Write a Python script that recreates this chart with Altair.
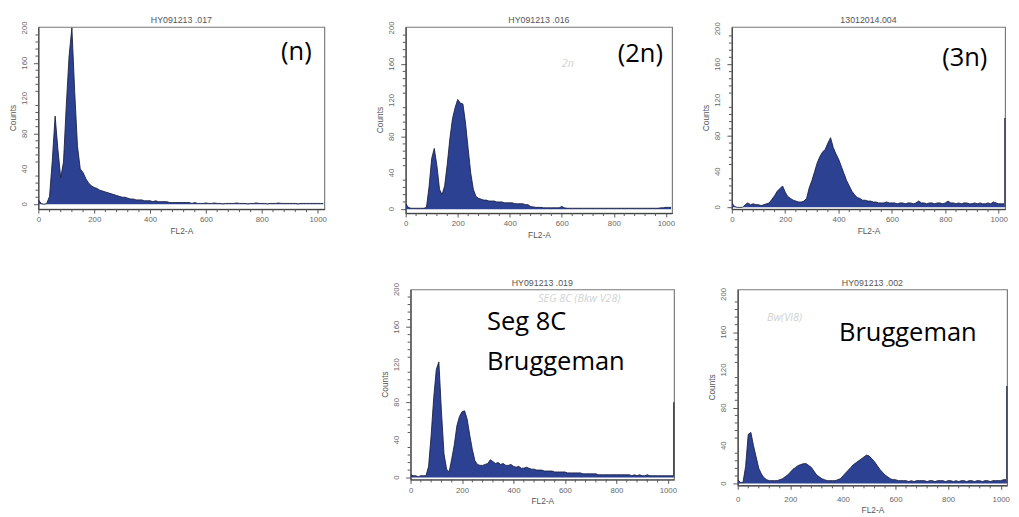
import altair as alt
import pandas as pd

# histogram channels (FL2-A), 10-channel resolution
channels = list(range(0, 1021, 10))

counts_n = [5, 1, 0, 1, 9, 50, 100, 62, 30, 48,
            112, 168, 200, 128, 66, 40, 36, 29, 24, 21,
            19, 18, 16, 15, 14, 13, 12, 11, 10, 9,
            8, 8, 7, 6, 6, 5, 5, 5, 4, 4,
            4, 3, 4, 3, 3, 3, 3, 2, 2, 2,
            2, 2, 2, 2, 2, 1, 2, 1, 1, 1,
            1.5, 1, 1, 1.5, 1, 1, 0.5, 1, 1, 1,
            1, 1.5, 1, 1, 1, 0.5, 1, 1, 1.5, 1,
            1, 1, 0.5, 1, 1, 1, 1.5, 1, 1, 1,
            1, 1, 1, 0.5, 1, 1, 1, 1, 1, 1,
            1, 1, 1]

counts_2n = [6, 2, 1, 1, 1, 1, 1, 1, 2, 25,
             56, 67, 48, 22, 16, 26, 50, 78, 100, 112,
             121, 117, 116, 95, 67, 40, 22, 14, 12, 11,
             10, 10, 9, 9, 9, 8, 8, 8, 7, 7,
             7, 7, 6, 6, 6, 6, 5, 5, 3, 2.5,
             2, 2, 2, 1.5, 1.5, 1.5, 1.5, 1.5, 1.5, 1.5,
             3, 1.5, 1, 1, 1, 1, 1, 1, 1, 1,
             1, 1, 1, 1, 1, 1, 1, 1, 1, 1,
             1, 1, 1, 1, 1, 1, 1, 1, 1, 1,
             1, 1, 1, 1, 1, 1, 1, 1, 1.5, 1.5,
             2, 2, 2]

counts_3n = [5, 1, 0, 0, 0, 3, 5, 3, 4, 3,
             3, 2, 3, 4, 5, 9, 13, 18, 21, 24,
             17, 12, 10, 8, 7, 6, 6, 7, 10, 22,
             30, 40, 50, 57, 62, 65, 72, 78, 67, 60,
             54, 46, 38, 30, 24, 18, 14, 11, 10, 8,
             8, 7, 7, 6, 6, 5, 5, 5, 6, 5,
             5, 5, 4, 5, 5, 4, 5, 5, 4, 5,
             7, 5, 5, 4, 5, 5, 4, 5, 5, 4,
             5, 7, 5, 5, 4, 5, 4, 5, 5, 4,
             4, 5, 4, 5, 4, 4, 5, 4, 6, 5,
             4, 4, 4]

counts_seg = [3, 2, 2, 1, 2, 2, 2, 12, 45, 85,
              115, 123, 70, 25, 9, 6, 20, 35, 55, 65,
              70, 71, 62, 45, 30, 18, 14, 13, 13, 14,
              15, 19, 17, 15, 16, 14, 15, 13, 13, 14,
              12, 11, 12, 10, 10, 11, 10, 9, 9, 8,
              8, 8, 7, 7, 7, 7, 6, 6, 6, 6,
              6, 5, 5, 5, 5, 5, 5, 4, 4, 4,
              4, 4, 4, 3, 3, 3, 3, 3, 3, 3,
              3, 3, 3, 3, 3, 3, 2, 3, 2, 3,
              2, 2, 3, 2, 2, 2, 2, 2, 2, 2,
              2, 2, 2]

counts_brug = [4, 1, 1, 18, 52, 54, 40, 28, 16, 10,
               6, 4, 3, 3, 3, 3, 4, 5, 7, 9,
               12, 15, 17, 19, 20, 21, 21, 19, 17, 13,
               9, 7, 5, 4, 3, 3, 3, 3, 4, 5,
               8, 11, 14, 17, 20, 22, 24, 26, 28, 30,
               29, 26, 23, 19, 15, 12, 9, 7, 5, 4,
               4, 3, 3, 3, 3, 2, 3, 2, 3, 3,
               3, 3, 2, 3, 3, 2, 3, 3, 3, 2,
               3, 3, 2, 3, 2, 3, 3, 2, 3, 3,
               2, 3, 3, 2, 3, 3, 2, 3, 3, 3,
               3, 4, 4]

# counts in the last (overflow) channel
edge_channel = 1023
edge_3n = 100
edge_seg = 80
edge_brug = 103

titles = ["HY091213 .017", "HY091213 .016", "13012014.004", "HY091213 .019", "HY091213 .002"]

x_major = [0, 200, 400, 600, 800, 1000]
y_major = [0, 40, 80, 120, 160, 200]
x_minor = [v for v in range(40, 1001, 40) if v not in x_major]
y_minor = [v for v in range(8, 201, 8) if v not in y_major]

FILL = "#2c4192"
EDGE = "#1b2140"
TICK = "#555555"
LABEL = "#666666"
TICKFONT = "Liberation Sans"
ANNFONT = "Open Sans"


def x_axis(lpad, tpad):
    return alt.Axis(values=x_major, format="d", title="FL2-A", tickSize=4,
                    labelFlush=False, labelOverlap=False, grid=False,
                    labelPadding=lpad, titlePadding=tpad)


def y_axis():
    return alt.Axis(values=y_major, tickSize=5, labels=False, title=None, grid=False)


def panel(title, counts, width, height, ydom, notes, faint, edge=None, lpad=3, tpad=3):
    df = pd.DataFrame({"ch": channels, "count": counts})
    xs = alt.Scale(domain=[0, 1024], nice=False, zero=False)
    ys = alt.Scale(domain=ydom, nice=False, zero=False)
    base = alt.Chart(df)
    area = base.mark_area(color=FILL, interpolate="linear", clip=True).encode(
        x=alt.X("ch:Q", scale=xs, axis=x_axis(lpad, tpad)),
        y=alt.Y("count:Q", scale=ys, axis=y_axis()),
        y2=alt.datum(0),
    )
    line = base.mark_line(color=EDGE, strokeWidth=0.9, clip=True).encode(
        x=alt.X("ch:Q", scale=xs), y=alt.Y("count:Q", scale=ys)
    )
    xm = alt.Chart(pd.DataFrame({"v": x_minor})).mark_rule(color=TICK, strokeWidth=1).encode(
        x=alt.X("v:Q", scale=xs), y=alt.value(height), y2=alt.value(height + 3))
    ym = alt.Chart(pd.DataFrame({"v": y_minor})).mark_rule(color=TICK, strokeWidth=1).encode(
        y=alt.Y("v:Q", scale=ys), x=alt.value(0), x2=alt.value(-3))
    ylab = alt.Chart(pd.DataFrame({"v": y_major})).mark_text(
        angle=270, align="center", baseline="middle", font=TICKFONT, fontSize=8, color=LABEL
    ).encode(y=alt.Y("v:Q", scale=ys), x=alt.value(-14), text=alt.Text("v:Q", format="d"))
    ytitle = alt.Chart(pd.DataFrame({"t": ["Counts"]})).mark_text(
        angle=270, align="center", baseline="middle", font=TICKFONT, fontSize=8.5, color="#555555"
    ).encode(y=alt.value(height / 2), x=alt.value(-26), text="t:N")
    ptitle = alt.Chart(pd.DataFrame({"t": [title]})).mark_text(
        align="center", baseline="middle", font=TICKFONT, fontSize=9, color="#555555"
    ).encode(x=alt.value(width / 2), y=alt.value(-7), text="t:N")
    layers = [area, line, xm, ym, ylab, ytitle, ptitle]
    if edge is not None:
        edf = pd.DataFrame({"ch": [edge_channel], "count": [edge]})
        layers.append(alt.Chart(edf).mark_rule(color=EDGE, strokeWidth=1.2).encode(
            x=alt.X("ch:Q", scale=xs), y=alt.Y("count:Q", scale=ys), y2=alt.datum(0)))
    if faint:
        fdf = pd.DataFrame(faint, columns=["x", "y", "t"])
        layers.append(alt.Chart(fdf).mark_text(align="left", baseline="middle", font=ANNFONT,
                                               fontSize=11, fontStyle="italic", color="#d2d2d2").encode(
            x=alt.X("x:Q", scale=xs), y=alt.Y("y:Q", scale=ys), text="t:N"))
    ndf = pd.DataFrame(notes, columns=["x", "y", "t"])
    layers.append(alt.Chart(ndf).mark_text(align="left", baseline="middle", font=ANNFONT,
                                           fontSize=26, color="#000000").encode(
        x=alt.X("x:Q", scale=xs), y=alt.Y("y:Q", scale=ys), text="t:N"))
    return alt.layer(*layers).properties(width=width, height=height)


p1 = panel(titles[0], counts_n, 292, 186, [-5.5, 201], [[869, 172, "(n)"]], [])
p2 = panel(titles[1], counts_2n, 272, 190, [-4.3, 201], [[815, 171, "(2n)"]], [[600, 160, "2n"]])
p3 = panel(titles[2], counts_3n, 279, 186, [-2, 202], [[788, 167, "(3n)"]], [], edge_3n)
p4 = panel(titles[3], counts_seg, 269, 194, [-2, 200], [[297, 165, "Seg 8C"], [297, 123, "Bruggeman"]],
           [[496, 190, "SEG 8C (Bkw V28)"]], edge_seg)
p5 = panel(titles[4], counts_brug, 275, 200, [-2, 205.2], [[385, 159, "Bruggeman"]],
           [[111, 175, "Bw(VI8)"]], edge_brug, lpad=6, tpad=3)

spacer = alt.Chart(pd.DataFrame({"a": [0]})).mark_rule(opacity=0).encode(
    x=alt.value(0), x2=alt.value(10), y=alt.value(0)
).properties(width=329, height=10, view=alt.ViewBackground(strokeOpacity=0))

top = alt.hconcat(p1, alt.hconcat(p2, p3, spacing=26), spacing=49)
bottom = alt.hconcat(spacer, alt.hconcat(p4, p5, spacing=30), spacing=20)

chart = alt.vconcat(top, bottom, spacing=38).properties(
    padding={"left": 0, "top": 2, "right": 0, "bottom": 0}
).configure_view(
    stroke="#7a7a7a", strokeWidth=1.2
).configure_axis(
    labelFont=TICKFONT, titleFont=TICKFONT, labelFontSize=8, titleFontSize=8.5,
    labelColor=LABEL, titleColor="#555555", titleFontWeight="normal",
    domainColor="#444444", domainWidth=1.2, tickColor=TICK
)

chart.save("out.html", embed_options={"renderer": "svg", "actions": False})
